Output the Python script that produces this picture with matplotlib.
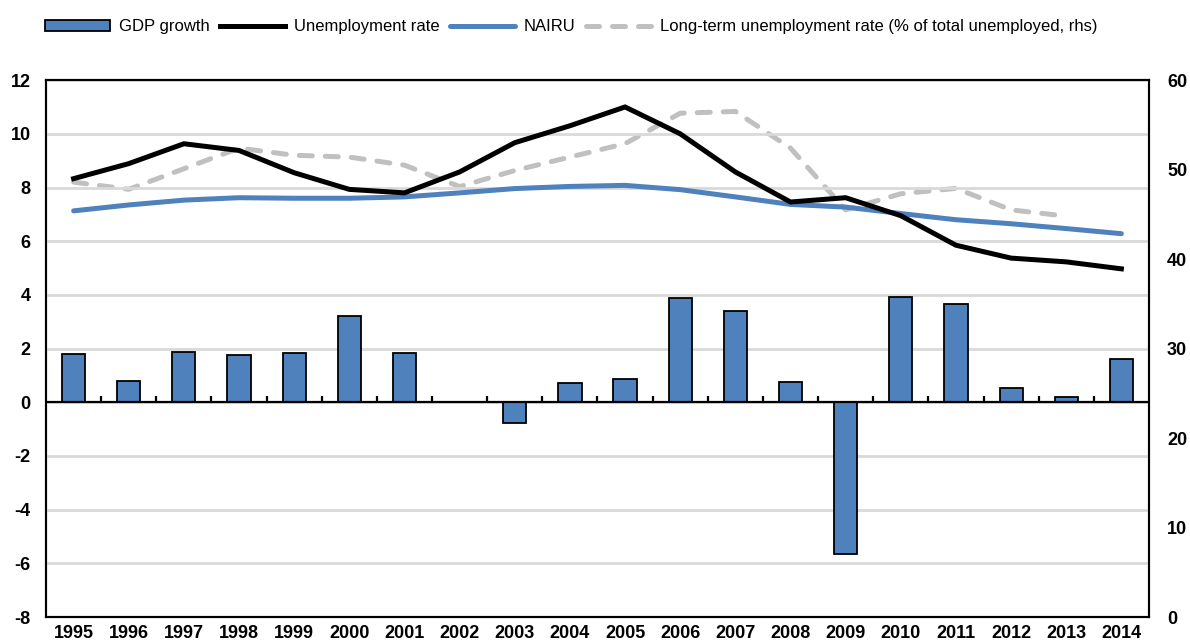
import numpy as np
import matplotlib
matplotlib.use("Agg")
import matplotlib.pyplot as plt

plt.rcParams['font.family'] = ['Liberation Sans', 'DejaVu Sans']
plt.rcParams['axes.unicode_minus'] = False

# Data
years = [str(y) for y in range(1995, 2015)]
gdp_growth = [1.78, 0.80, 1.88, 1.76, 1.85, 3.20, 1.82, 0.02, -0.76, 0.70,
              0.86, 3.88, 3.40, 0.76, -5.64, 3.93, 3.67, 0.55, 0.20, 1.60]
unemployment = [8.33, 8.89, 9.63, 9.38, 8.55, 7.93, 7.80, 8.58, 9.67, 10.30,
                11.00, 10.00, 8.58, 7.46, 7.62, 6.95, 5.85, 5.37, 5.23, 4.97]
nairu = [7.13, 7.35, 7.53, 7.62, 7.60, 7.60, 7.65, 7.80, 7.96, 8.04,
         8.08, 7.92, 7.65, 7.37, 7.27, 7.03, 6.80, 6.65, 6.47, 6.28]
long_term = [48.6, 47.8, 50.1, 52.4, 51.6, 51.4, 50.5, 48.1, 49.9, 51.4,
             52.9, 56.3, 56.5, 52.4, 45.5, 47.3, 47.9, 45.5, 44.8, np.nan]

left_ticks = list(range(-8, 13, 2))
right_ticks = list(range(0, 61, 10))

BLUE = '#4F81BD'
GREY = '#C0C0C0'
GRID = '#D9D9D9'

fig = plt.figure(figsize=(11.9, 6.41), dpi=100)
ax = fig.add_axes([0.0387, 0.0374, 0.9268, 0.8376])
x = np.arange(len(years))

ax.set_axisbelow(True)
ax.yaxis.grid(True, color=GRID, linewidth=2)
bars = ax.bar(x, gdp_growth, width=0.42, color=BLUE, edgecolor='black',
              linewidth=1.3, label='GDP growth', zorder=2)
l1, = ax.plot(x, unemployment, color='black', linewidth=3.6,
              solid_joinstyle='miter', label='Unemployment rate', zorder=4)
l2, = ax.plot(x, nairu, color=BLUE, linewidth=3.6, solid_capstyle='round',
              label='NAIRU', zorder=3)

ax.set_xlim(-0.5, len(years) - 0.5)
ax.set_ylim(-8, 12)
ax.set_yticks(left_ticks)
ax.set_xticks(x)
ax.set_xticklabels(years)
ax.tick_params(axis='both', length=0, labelsize=13)
ax.tick_params(axis='y', pad=11)
ax.tick_params(axis='x', pad=6)
for lab in ax.get_xticklabels() + ax.get_yticklabels():
    lab.set_fontweight('bold')
for sp in ax.spines.values():
    sp.set_linewidth(1.5)

# zero line with small ticks between the years
ax.axhline(0, color='black', linewidth=1.6, zorder=2.5)
zero_frac = (0 - (-8)) / (12 - (-8))
ax.vlines(x[:-1] + 0.5, zero_frac, zero_frac + 0.011, color='black',
          linewidth=1.6, transform=ax.get_xaxis_transform(), zorder=2.5)

ax2 = ax.twinx()
l3, = ax2.plot(x, long_term, color=GREY, linewidth=3.6, dashes=(2.6, 2.6),
               dash_capstyle='round', label='Long-term unemployment rate (% of total unemployed, rhs)',
               zorder=3)
ax2.set_ylim(0, 60)
ax2.set_yticks(right_ticks)
ax2.tick_params(axis='y', length=0, labelsize=13, pad=13)
for lab in ax2.get_yticklabels():
    lab.set_fontweight('bold')
for sp in ax2.spines.values():
    sp.set_linewidth(1.5)

# keep lines on top of bars
ax.set_zorder(ax2.get_zorder() + 1)
ax.patch.set_visible(False)

fig.legend(handles=[bars, l1, l2, l3], loc='center', bbox_to_anchor=(0.48, 0.958),
           ncol=4, frameon=False, fontsize=12, handlelength=3.9, handletextpad=0.55,
           columnspacing=0.6)

fig.savefig('out.png', dpi=100)
